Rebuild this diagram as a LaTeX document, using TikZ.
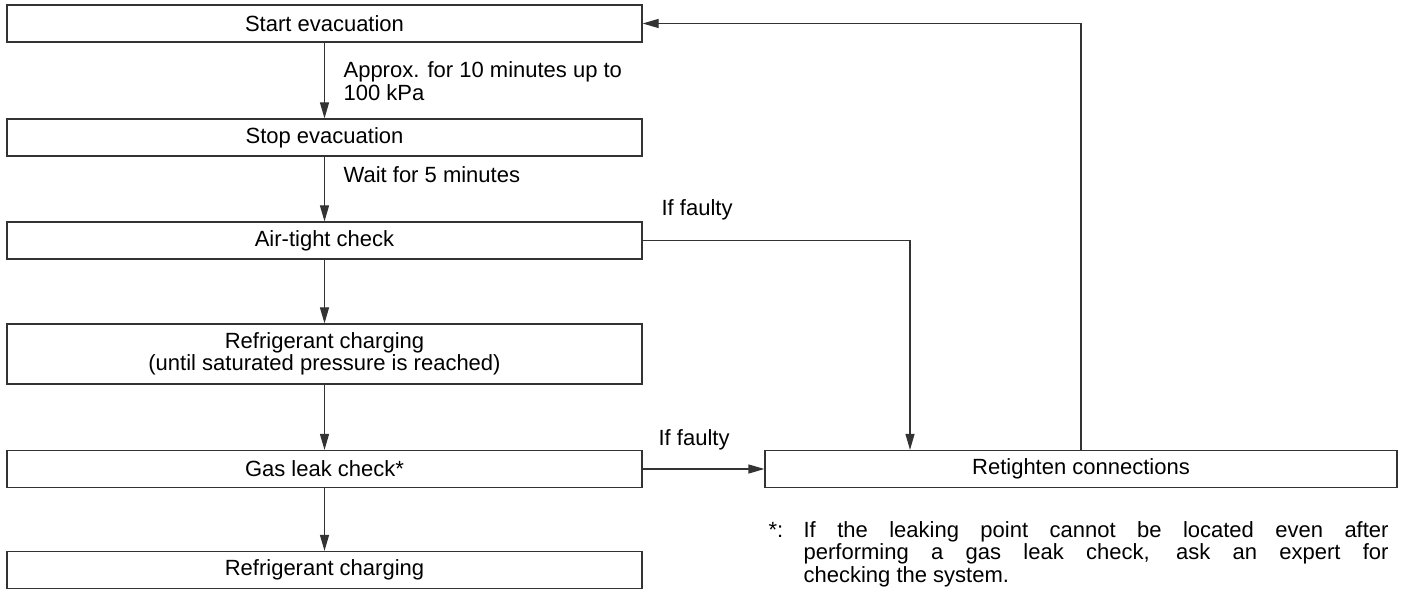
\documentclass[tikz,border=0pt]{standalone}
\usepackage{fontspec}
\setmainfont{Liberation Sans}
\usetikzlibrary{arrows.meta}
\begin{document}
\begin{tikzpicture}[x=0.5pt,y=-0.5pt,
  line width=0.6pt,
  box/.style={draw=black!80, inner sep=0pt, minimum width=317.5pt,
    minimum height=18.5pt, align=center,
    font=\fontsize{11pt}{10pt}\selectfont},
  flow/.style={draw=black!80, -{Triangle[length=8pt,width=4.5pt]}},
  lbl/.style={inner sep=0pt, anchor=base west,
    font=\fontsize{11pt}{11.5pt}\selectfont}]
\useasboundingbox (0,0) rectangle (1406,592);

% main sequence
\node[box] (start)   at (324.5,23.5) {Start evacuation};
\node[box] (stop)    at (324.5,137.5) {Stop evacuation};
\node[box] (air)     at (324.5,240.5) {Air-tight check};
\node[box, minimum height=30pt] (charge1) at (324.5,354)
  {Refrigerant charging\\(until saturated pressure is reached)};
\node[box] (gas)     at (324.5,469) {Gas leak check*};
\node[box] (charge2) at (324.5,570) {Refrigerant charging};

% repair step
\node[box, minimum width=316pt] (ret) at (1081,469) {Retighten connections};
\coordinate (drop) at (910,0);

\draw[flow] (start.south) -- (stop.north);
\draw[flow] (stop.south) -- (air.north);
\draw[flow] (air.south) -- (charge1.north);
\draw[flow] (charge1.south) -- (gas.north);
\draw[flow] (gas.south) -- (charge2.north);

\draw[flow] (air.east) -| (drop |- ret.north);
\draw[flow] (gas.east) -- (ret.west);
\draw[flow] (ret.north) |- (start.east);

% labels
\node[lbl] (approx1) at (343,78) {Approx. for 10 minutes up to};
\node[lbl] (approx2) at (343,101) {100 kPa};
\node[lbl] (wait) at (343,183) {Wait for 5 minutes};
\node[lbl] (fault1) at (661,216) {If faulty};
\node[lbl] (fault2) at (658,445) {If faulty};

% footnote
\node[lbl] (star) at (768,537) {*:};
\node[lbl] (note) at (803,537) {\parbox[t]{292.5pt}{\fontsize{11pt}{9.7pt}\selectfont
  \tolerance=10000\hyphenpenalty=10000
  If the leaking point cannot be located even after\linebreak
  performing a gas leak check, ask an expert for\linebreak
  checking the system.}};
\end{tikzpicture}
\end{document}
